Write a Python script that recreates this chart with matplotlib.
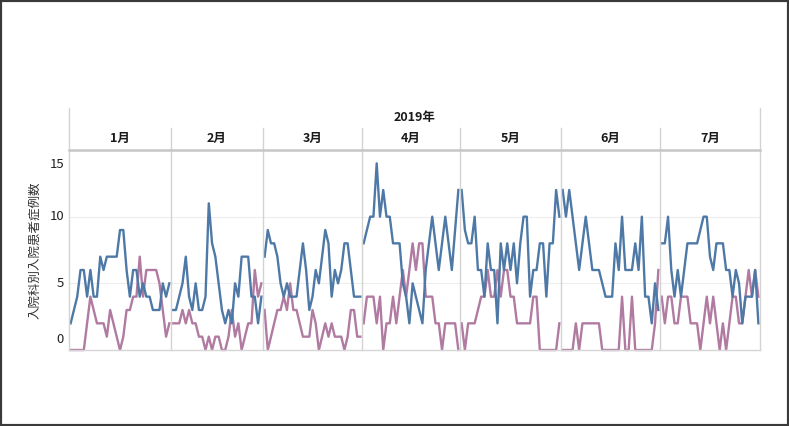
import matplotlib.pyplot as plt
from matplotlib.lines import Line2D
from matplotlib.patches import Rectangle

plt.rcParams['font.family'] = ['Noto Sans CJK JP', 'DejaVu Sans']

year_label = '2019年'
months = ['1月', '2月', '3月', '4月', '5月', '6月', '7月']
y_title = '入院科別入院患者症例数'
y_ticks = [0, 5, 10, 15]

# daily counts, series 1 (blue)
s1_jan = [2, 3, 4, 6, 6, 4, 6, 4, 4, 7, 6, 7, 7, 7, 7, 9, 9, 6, 4, 6, 6, 4, 5, 4, 4, 3, 3, 3, 5, 4, 5]
s1_feb = [3, 3, 4, 5, 7, 4, 3, 5, 3, 3, 4, 11, 8, 7, 5, 3, 2, 3, 2, 5, 4, 7, 7, 7, 4, 4, 2, 4]
s1_mar = [7, 9, 8, 8, 7, 5, 4, 5, 4, 4, 4, 6, 8, 6, 3, 4, 6, 5, 7, 9, 8, 4, 6, 5, 6, 8, 8, 6, 4, 4, 4]
s1_apr = [8, 9, 10, 10, 14, 10, 12, 10, 10, 8, 8, 8, 5, 4, 2, 5, 4, 3, 2, 6, 8, 10, 8, 6, 8, 10, 8, 6, 9, 12]
s1_may = [12, 9, 8, 8, 10, 6, 6, 4, 8, 6, 6, 2, 8, 6, 8, 6, 8, 5, 8, 10, 10, 4, 6, 6, 8, 8, 4, 8, 8, 12, 10]
s1_jun = [12, 10, 12, 10, 8, 6, 8, 10, 8, 6, 6, 6, 5, 4, 4, 4, 8, 6, 10, 6, 6, 6, 8, 6, 10, 4, 4, 2, 5, 3]
s1_jul = [8, 8, 10, 6, 4, 6, 4, 6, 8, 8, 8, 8, 9, 10, 10, 7, 6, 8, 8, 8, 6, 6, 4, 6, 5, 2, 4, 4, 4, 6, 2]

# daily counts, series 2 (pink)
s2_jan = [0, 0, 0, 0, 0, 2, 4, 3, 2, 2, 2, 1, 3, 2, 1, 0, 1, 3, 3, 4, 4, 7, 4, 6, 6, 6, 6, 5, 3, 1, 2]
s2_feb = [2, 2, 2, 3, 2, 3, 2, 2, 1, 1, 0, 1, 0, 1, 1, 0, 0, 1, 3, 1, 2, 0, 1, 2, 2, 6, 4, 5]
s2_mar = [3, 0, 1, 2, 3, 3, 4, 3, 5, 3, 3, 2, 1, 1, 1, 3, 2, 0, 1, 2, 1, 2, 1, 1, 1, 0, 1, 3, 3, 1, 1]
s2_apr = [2, 4, 4, 4, 2, 4, 0, 2, 2, 4, 2, 4, 6, 4, 6, 8, 6, 8, 8, 4, 4, 4, 2, 2, 0, 2, 2, 2, 2, 0]
s2_may = [2, 0, 2, 2, 2, 3, 4, 4, 6, 4, 4, 6, 4, 6, 6, 4, 4, 2, 2, 2, 2, 2, 4, 4, 0, 0, 0, 0, 0, 0, 2]
s2_jun = [0, 0, 0, 0, 2, 0, 2, 2, 2, 2, 2, 2, 0, 0, 0, 0, 0, 0, 4, 0, 0, 4, 0, 0, 0, 0, 0, 0, 2, 6]
s2_jul = [4, 2, 4, 4, 2, 2, 4, 4, 4, 2, 2, 2, 0, 2, 4, 2, 4, 2, 0, 2, 0, 2, 4, 4, 2, 2, 4, 6, 4, 6, 4]

series1 = [s1_jan, s1_feb, s1_mar, s1_apr, s1_may, s1_jun, s1_jul]
series2 = [s2_jan, s2_feb, s2_mar, s2_apr, s2_may, s2_jun, s2_jul]

W, H = 789, 426
fig = plt.figure(figsize=(W / 100, H / 100), dpi=100)

edges = [69, 171, 263, 362, 460, 561, 660, 760]
top, bottom = 150, 350
head_top, month_top = 108, 128
sep = '#d3d3d3'


def fx(px):
    return px / W


def fy(py):
    return 1 - py / H


def line(x0, y0, x1, y1, color=sep, lw=1.0):
    fig.add_artist(Line2D([fx(x0), fx(x1)], [fy(y0), fy(y1)],
                          transform=fig.transFigure, color=color, lw=lw))


for i, (a, b) in enumerate(zip(series1, series2)):
    ax = fig.add_axes([fx(edges[i]), fy(bottom), fx(edges[i + 1] - edges[i]), (bottom - top) / H])
    days = range(len(a))
    ax.plot(days, a, color='#4e79a7', lw=1.7, clip_on=False, zorder=3)
    ax.plot(days, b, color='#b07aa1', lw=1.7, clip_on=False, zorder=2)
    ax.set_xlim(-0.5, len(a) - 0.5)
    ax.set_ylim(0, 15)
    for s in ax.spines.values():
        s.set_visible(False)
    ax.set_xticks([])
    ax.set_yticks([5, 10])
    ax.tick_params(left=False, labelleft=False)
    ax.grid(axis='y', color='#ededed', lw=0.8)
    ax.patch.set_alpha(0)
    cx = (edges[i] + edges[i + 1]) / 2
    fig.text(fx(cx), fy(138), months[i], ha='center', va='center',
             fontsize=9, fontweight='bold', color='#1a1a1a')

# header and panel frame
line(edges[0], head_top, edges[0], bottom)
line(edges[-1], head_top, edges[-1], bottom)
for x in edges[1:-1]:
    line(x, month_top, x, bottom)
line(edges[0], top, edges[-1], top, color='#c6c6c6', lw=1.8)
line(edges[0], bottom, edges[-1], bottom, color='#d6d6d6', lw=1.0)

fig.text(fx((edges[0] + edges[-1]) / 2), fy(117), year_label, ha='center', va='center',
         fontsize=9, fontweight='bold', color='#1a1a1a')

# y axis labels
for v in y_ticks:
    py = bottom - v * (bottom - top) / 15
    va = 'center'
    if v == 0:
        va = 'bottom'
        py -= 4
    elif v == 15:
        va = 'top'
        py += 8
    fig.text(fx(64), fy(py), str(v), ha='right', va=va, fontsize=9.5, color='#222222')

fig.text(fx(35), fy(250), y_title, rotation=90, ha='center', va='center',
         fontsize=9, color='#333333')

fig.add_artist(Rectangle((0, 0), 1, 1, transform=fig.transFigure, fill=False,
                         edgecolor='#3a3a3a', lw=3))

fig.savefig('out.png', dpi=100)
